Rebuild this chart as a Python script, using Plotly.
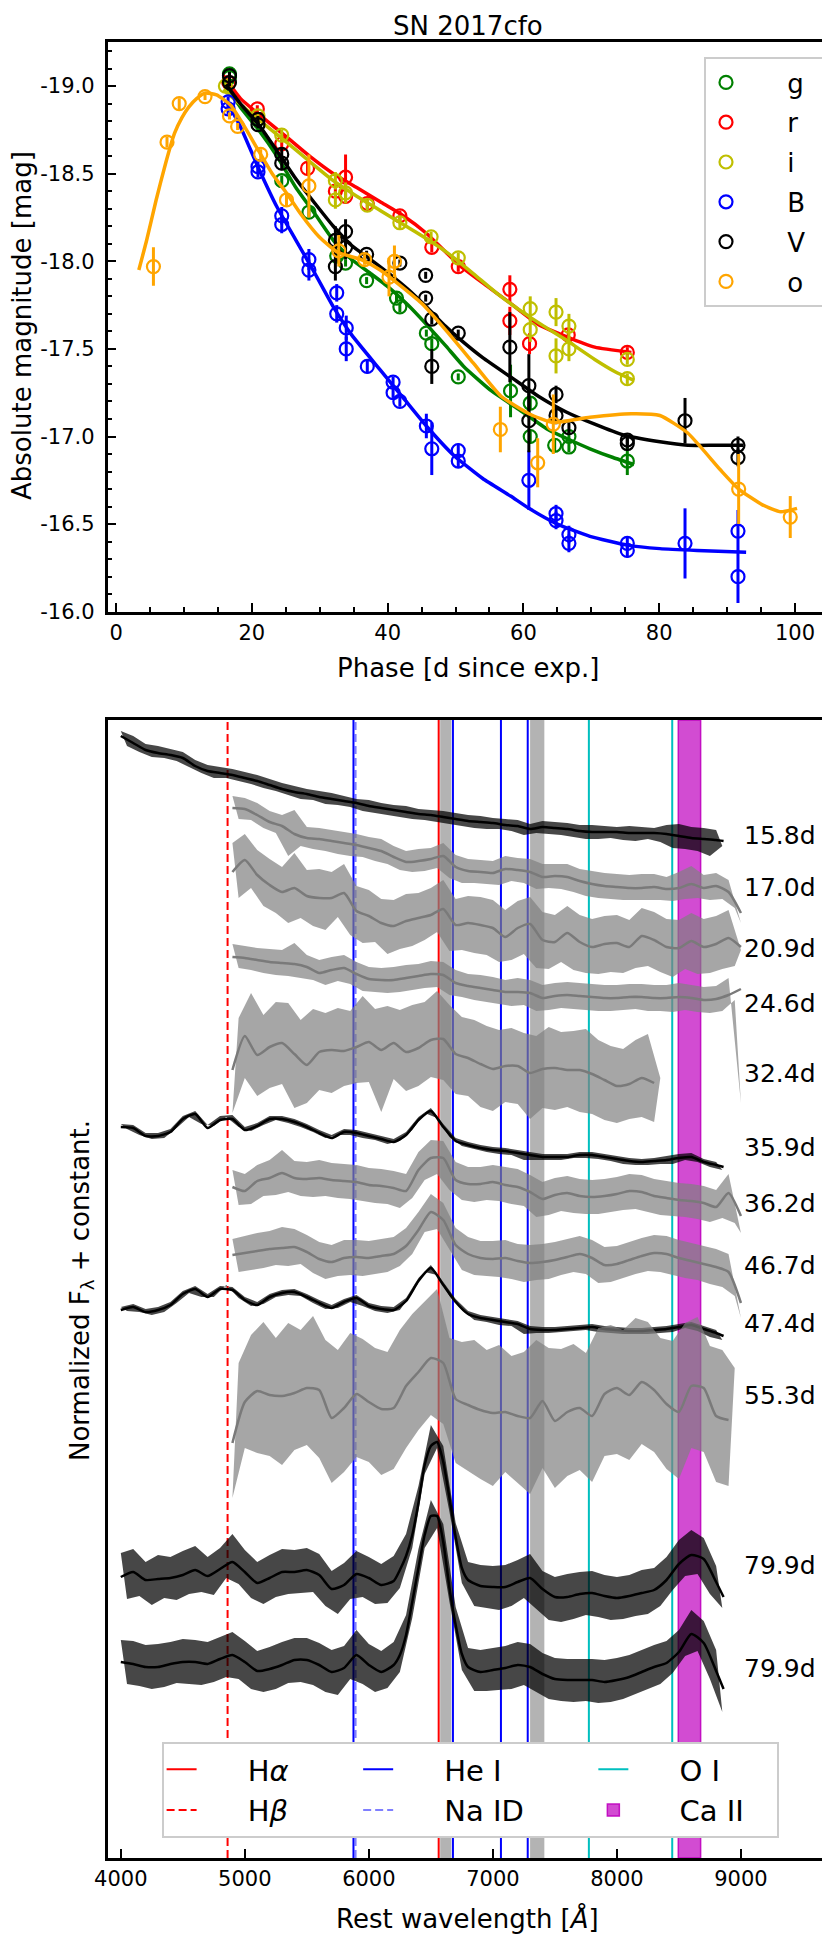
import plotly.graph_objects as go

FONT = "DejaVu Sans"
W, H = 830, 1937
OFF = 8                      # the page body adds an 8 px margin round the figure
FW, FH = W - OFF, H - OFF

# ---------------- light curves (phase [d], absolute mag, error) ----------------
G_PHASE = [16.7, 16.7, 20.9, 24.4, 28.4, 32.5, 33.8, 36.9, 41.3, 41.8, 45.7, 46.5, 50.4, 58.1, 61.0, 61.0, 64.6, 66.7, 66.7, 75.3]
G_MAG = [-19.07, -19.05, -18.81, -18.46, -18.28, -18.03, -17.99, -17.89, -17.79, -17.74, -17.59, -17.53, -17.34, -17.26, -17.19, -17.00, -16.95, -17.00, -16.94, -16.86]
G_ERR = [0.02, 0.02, 0.02, 0.03, 0.03, 0.03, 0.02, 0.02, 0.03, 0.03, 0.02, 0.03, 0.02, 0.15, 0.04, 0.04, 0.04, 0.03, 0.03, 0.08]

R_PHASE = [16.6, 20.8, 24.4, 28.2, 32.3, 33.8, 33.8, 37.0, 41.8, 46.5, 50.4, 58.0, 58.0, 60.9, 66.6, 75.3]
R_MAG = [-19.02, -18.87, -18.67, -18.53, -18.40, -18.48, -18.37, -18.33, -18.26, -18.08, -17.97, -17.84, -17.66, -17.53, -17.58, -17.48]
R_ERR = [0.02, 0.02, 0.03, 0.04, 0.04, 0.13, 0.04, 0.03, 0.03, 0.03, 0.03, 0.08, 0.08, 0.06, 0.03, 0.03]

I_PHASE = [16.1, 20.9, 24.4, 32.3, 32.3, 33.8, 37.0, 41.8, 46.4, 50.4, 61.0, 61.0, 64.8, 64.8, 66.7, 66.7, 75.3, 75.3]
I_MAG = [-19.00, -18.83, -18.72, -18.46, -18.35, -18.39, -18.32, -18.22, -18.14, -18.02, -17.73, -17.61, -17.71, -17.46, -17.63, -17.50, -17.44, -17.33]
I_ERR = [0.02, 0.02, 0.03, 0.05, 0.05, 0.06, 0.03, 0.04, 0.03, 0.03, 0.07, 0.07, 0.08, 0.10, 0.07, 0.07, 0.03, 0.03]

B_PHASE = [16.5, 16.5, 20.9, 20.9, 24.4, 24.4, 28.4, 28.4, 32.5, 32.5, 33.9, 33.9, 37.0, 40.8, 40.8, 41.8, 45.7, 46.5, 50.4, 50.4,
           60.8, 64.8, 64.8, 66.7, 66.7, 75.3, 75.3, 83.8, 91.6, 91.6]
B_MAG = [-18.91, -18.87, -18.54, -18.51, -18.26, -18.21, -18.01, -17.95, -17.82, -17.70, -17.62, -17.50, -17.40, -17.31, -17.25, -17.20,
         -17.06, -16.93, -16.92, -16.86, -16.75, -16.56, -16.52, -16.44, -16.39, -16.39, -16.35, -16.39, -16.46, -16.20]
B_ERR = [0.03, 0.03, 0.03, 0.03, 0.05, 0.05, 0.06, 0.06, 0.05, 0.05, 0.07, 0.07, 0.04, 0.03, 0.03, 0.03, 0.07, 0.15, 0.04, 0.04,
         0.17, 0.05, 0.05, 0.05, 0.05, 0.04, 0.04, 0.20, 0.12, 0.15]

V_PHASE = [16.7, 16.7, 20.9, 20.9, 24.4, 24.4, 32.3, 32.3, 33.8, 33.8, 36.9, 41.8, 45.6, 45.6, 46.5, 46.5, 50.4, 58.0,
           60.8, 60.8, 64.8, 64.8, 66.7, 75.3, 75.3, 83.8, 91.6, 91.6]
V_MAG = [-19.06, -19.02, -18.81, -18.78, -18.61, -18.56, -18.12, -17.97, -18.17, -18.08, -18.04, -17.99, -17.92, -17.79, -17.67, -17.40,
         -17.59, -17.51, -17.29, -17.09, -17.24, -17.12, -17.05, -16.98, -16.96, -17.09, -16.95, -16.88]
V_ERR = [0.02, 0.02, 0.02, 0.02, 0.04, 0.04, 0.08, 0.08, 0.07, 0.07, 0.02, 0.02, 0.02, 0.02, 0.03, 0.10, 0.02, 0.20,
         0.18, 0.18, 0.05, 0.05, 0.03, 0.03, 0.03, 0.13, 0.05, 0.05]

O_PHASE = [5.5, 7.5, 9.3, 13.1, 16.7, 17.9, 21.3, 25.1, 28.4, 32.8, 36.6, 40.2, 41.0, 56.6, 62.1, 64.4, 91.7, 99.3]
O_MAG = [-17.97, -18.68, -18.90, -18.94, -18.83, -18.77, -18.61, -18.35, -18.43, -18.06, -18.01, -17.91, -18.00, -17.04, -16.85, -17.07, -16.70, -16.54]
O_ERR = [0.11, 0.03, 0.03, 0.02, 0.02, 0.02, 0.03, 0.04, 0.18, 0.09, 0.03, 0.11, 0.09, 0.13, 0.14, 0.17, 0.20, 0.12]

# fitted curves
G_FIT_PHASE = [15.8, 18.3, 21.0, 23.7, 26.5, 29.3, 32.0, 34.7, 37.5, 40.2, 43.0, 45.7, 48.5, 51.2, 55.3, 59.5, 63.6, 66.3, 69.8, 73.2, 76.3]
G_FIT_MAG = [-19.02, -18.88, -18.75, -18.60, -18.42, -18.27, -18.12, -18.01, -17.93, -17.85, -17.75, -17.64, -17.52, -17.40, -17.26, -17.15, -17.04, -16.99, -16.93, -16.88, -16.84]
R_FIT_PHASE = [15.8, 18.3, 21.0, 25.1, 28.5, 32.0, 35.5, 38.9, 42.3, 45.7, 48.1, 50.5, 54.6, 58.1, 62.2, 66.3, 70.5, 75.9]
R_FIT_MAG = [-19.06, -18.93, -18.84, -18.71, -18.60, -18.50, -18.42, -18.34, -18.26, -18.16, -18.07, -17.98, -17.86, -17.76, -17.64, -17.57, -17.51, -17.48]
I_FIT_PHASE = [15.8, 20.0, 25.1, 28.5, 32.0, 35.5, 38.9, 42.3, 45.7, 49.1, 52.6, 56.0, 59.5, 63.0, 66.3, 70.5, 73.5, 76.3]
I_FIT_MAG = [-18.98, -18.84, -18.68, -18.57, -18.46, -18.37, -18.29, -18.21, -18.13, -18.04, -17.93, -17.82, -17.72, -17.63, -17.55, -17.44, -17.37, -17.32]
B_FIT_PHASE = [16.2, 18.3, 21.0, 23.7, 26.5, 29.3, 32.0, 34.7, 38.9, 42.3, 45.7, 49.8, 54.0, 58.1, 60.8, 65.0, 69.8, 75.3, 80.1, 85.6, 92.8]
B_FIT_MAG = [-18.92, -18.77, -18.53, -18.31, -18.12, -17.93, -17.74, -17.58, -17.38, -17.22, -17.06, -16.89, -16.76, -16.66, -16.59, -16.50, -16.43, -16.38, -16.36, -16.35, -16.34]
V_FIT_PHASE = [16.2, 18.3, 21.0, 23.7, 26.5, 29.3, 32.0, 34.7, 37.5, 40.2, 43.0, 45.7, 48.5, 50.5, 54.0, 58.1, 62.2, 66.3, 70.5, 74.6, 80.1, 84.2, 88.3, 92.4]
V_FIT_MAG = [-19.01, -18.90, -18.78, -18.63, -18.47, -18.33, -18.20, -18.09, -18.01, -17.93, -17.84, -17.74, -17.63, -17.56, -17.45, -17.34, -17.23, -17.14, -17.07, -17.01, -16.97, -16.95, -16.95, -16.95]
O_FIT_PHASE = [3.35, 4.5, 5.9, 7.3, 8.6, 9.7, 10.7, 11.9, 13.1, 14.8, 16.9, 18.9, 21.0, 23.0, 25.1, 27.2, 29.9, 32.7, 36.1, 38.9, 41.6, 45.0,
               48.5, 52.6, 56.7, 60.8, 64.3, 69.8, 75.9, 80.1, 84.2, 89.0, 91.7, 95.2, 97.9, 100.3]
O_FIT_MAG = [-17.95, -18.12, -18.35, -18.56, -18.73, -18.82, -18.88, -18.93, -18.96, -18.95, -18.89, -18.77, -18.63, -18.50, -18.39, -18.27, -18.14, -18.05, -18.01, -17.95, -17.87, -17.76,
             -17.61, -17.42, -17.23, -17.13, -17.08, -17.11, -17.13, -17.12, -17.02, -16.81, -16.70, -16.61, -16.57, -16.59]

# ---------------- spectra (rest wavelength [A], normalized flux + constant) ----------------
WL_BLUE = [4000, 4100, 4200, 4300, 4400, 4500, 4600, 4700, 4800, 4900, 5000, 5100, 5200, 5300, 5400, 5500, 5600, 5700, 5800, 5900,
           6000, 6100, 6200, 6300, 6400, 6500, 6600, 6700, 6800, 6900, 7000, 7100, 7200, 7300, 7400, 7500, 7600, 7700, 7800, 7900,
           8000, 8100, 8200, 8300, 8400, 8500, 8600, 8700, 8800, 8860]
WL_RED = [4900, 5000, 5100, 5200, 5300, 5400, 5500, 5600, 5700, 5800, 5900, 6000, 6100, 6200, 6300, 6400, 6500, 6600, 6700, 6800,
          6900, 7000, 7100, 7200, 7300, 7400, 7500, 7600, 7700, 7800, 7900, 8000, 8100, 8200, 8300, 8400, 8500, 8600, 8700, 8800,
          8900, 9000]
WL_LATE = [4000, 4100, 4200, 4300, 4400, 4500, 4600, 4700, 4800, 4900, 5000, 5100, 5200, 5300, 5400, 5500, 5600, 5700, 5800, 5900,
           6000, 6100, 6200, 6250, 6300, 6350, 6400, 6450, 6500, 6550, 6600, 6650, 6700, 6750, 6800,
           6900, 7000, 7100, 7200, 7300, 7400, 7500, 7600, 7700, 7800, 7900, 8000, 8100, 8200, 8300, 8400, 8500, 8600, 8700, 8800, 8860]
RAW_BLUE = [4000, 4050, 4100, 4150, 4200, 4250, 4300, 4350, 4400, 4450,
            4500, 4550, 4600, 4650, 4700, 4750, 4800, 4850, 4900, 4950,
            5000, 5050, 5100, 5150, 5200, 5250, 5300, 5350, 5400, 5450,
            5500, 5550, 5600, 5650, 5700, 5750, 5800, 5850, 5900, 5950,
            6000, 6050, 6100, 6150, 6200, 6250, 6300, 6350, 6400, 6450,
            6500, 6550, 6600, 6650, 6700, 6750, 6800, 6850, 6900, 6950,
            7000, 7050, 7100, 7150, 7200, 7250, 7300, 7350, 7400, 7450,
            7500, 7550, 7600, 7650, 7700, 7750, 7800, 7850, 7900, 7950,
            8000, 8050, 8100, 8150, 8200, 8250, 8300, 8350, 8400, 8450,
            8500, 8550, 8600, 8650, 8700, 8750, 8800, 8850]
RAW_RED = [4900, 4950, 5000, 5050, 5100, 5150, 5200, 5250, 5300, 5350,
           5400, 5450, 5500, 5550, 5600, 5650, 5700, 5750, 5800, 5850,
           5900, 5950, 6000, 6050, 6100, 6150, 6200, 6250, 6300, 6350,
           6400, 6450, 6500, 6550, 6600, 6650, 6700, 6750, 6800, 6850,
           6900, 6950, 7000, 7050, 7100, 7150, 7200, 7250, 7300, 7350,
           7400, 7450, 7500, 7550, 7600, 7650, 7700, 7750, 7800, 7850,
           7900, 7950, 8000, 8050, 8100, 8150, 8200, 8250, 8300, 8350,
           8400, 8450, 8500, 8550, 8600, 8650, 8700, 8750, 8800, 8850,
           8900, 8950, 9000]

# raw flux: alternating upper / lower extent of the noise, one value every 50 A
S158_RAW = [112.7, 111.2, 112.2, 110.6, 111.4, 110.1, 111.2, 110.0, 110.9, 109.7,
            110.6, 109.1, 109.8, 108.5, 109.3, 108.0, 109.1, 108.0, 108.9, 107.7,
            108.6, 107.4, 108.3, 107.0, 107.9, 106.7, 107.5, 106.3, 107.2, 105.9,
            106.9, 105.8, 106.7, 105.4, 106.5, 105.3, 106.2, 105.1, 105.9, 104.7,
            105.8, 104.5, 105.5, 104.3, 105.3, 104.1, 105.2, 103.9, 104.9, 103.8,
            104.8, 103.6, 104.7, 103.4, 104.5, 103.2, 104.3, 103.0, 104.2, 102.9,
            104.0, 102.9, 103.9, 102.7, 103.8, 102.3, 103.4, 102.5, 103.7, 102.4,
            103.6, 102.3, 103.5, 102.1, 103.3, 101.9, 103.3, 101.9, 103.2, 102.0,
            103.1, 101.8, 103.2, 101.7, 103.1, 101.9, 103.0, 101.6, 103.3, 101.0,
            103.4, 100.9, 103.1, 100.7, 103.0, 100.2, 102.8, 101.2]
S158_SMOOTH = [112.2, 111.5, 110.8, 110.5, 110.3, 110.0, 109.2, 108.7, 108.5, 108.3,
               108.0, 107.7, 107.3, 106.9, 106.6, 106.4, 106.1, 105.9, 105.7, 105.5,
               105.2, 105.0, 104.8, 104.6, 104.4, 104.3, 104.1, 103.9, 103.7, 103.6,
               103.5, 103.3, 103.2, 102.9, 103.1, 103.0, 102.9, 102.7, 102.6, 102.6,
               102.6, 102.5, 102.5, 102.5, 102.4, 102.2, 102.0, 101.9, 101.8, 101.7]

S170_RAW = [106.2, 103.9, 106.0, 103.8, 105.5, 103.0, 104.7, 102.5, 104.3, 100.2,
            104.8, 101.2, 103.1, 100.9, 103.0, 100.7, 102.8, 100.4, 102.6, 100.2,
            102.4, 100.1, 102.1, 99.7, 101.9, 99.4, 101.2, 98.8, 100.7, 98.6,
            100.9, 98.7, 101.0, 99.0, 101.5, 98.0, 100.3, 97.5, 99.9, 97.5,
            99.8, 97.4, 99.7, 97.3, 100.2, 97.7, 100.0, 97.5, 99.9, 96.9,
            99.4, 97.0, 99.4, 96.9, 99.4, 96.6, 98.9, 96.2, 98.7, 96.0,
            98.5, 95.9, 98.4, 95.8, 98.3, 95.8, 98.4, 95.8, 98.4, 95.8,
            98.1, 95.7, 98.6, 95.9, 99.2, 96.0, 98.3, 95.8, 98.5, 95.9,
            97.8, 95.0, 93.5]
S170_SMOOTH = [105.0, 104.9, 104.3, 103.6, 103.2, 102.4, 102.0, 101.9, 101.7, 101.5,
               101.3, 101.0, 100.7, 100.1, 99.6, 99.7, 99.9, 100.2, 99.1, 98.7,
               98.6, 98.5, 98.9, 98.8, 98.6, 98.1, 98.2, 98.1, 97.7, 97.4,
               97.2, 97.1, 97.0, 97.0, 97.1, 96.9, 97.0, 97.4, 97.0, 97.2,
               96.6, 94.5]

S209_RAW = [101.5, 96.0, 102.4, 97.0, 100.8, 95.2, 99.9, 94.5, 99.1, 93.5,
            100.5, 94.0, 98.8, 93.2, 98.9, 92.8, 98.6, 94.1, 99.4, 92.3,
            97.2, 91.5, 96.8, 91.6, 95.9, 90.4, 95.8, 90.9, 96.4, 91.2,
            96.5, 91.8, 97.0, 92.6, 97.8, 90.7, 95.9, 90.8, 96.2, 90.5,
            96.1, 90.3, 95.8, 89.6, 94.8, 89.8, 95.7, 90.4, 96.1, 89.0,
            94.6, 88.9, 94.3, 89.6, 95.2, 88.8, 94.3, 88.5, 93.9, 88.4,
            94.2, 88.6, 94.3, 88.5, 93.8, 89.0, 95.0, 89.2, 94.6, 88.6,
            93.9, 88.1, 93.8, 88.9, 94.5, 88.4, 93.9, 88.5, 94.2, 88.9,
            94.8, 89.2, 90.8]
S209_SMOOTH = [98.6, 99.8, 98.3, 97.3, 96.6, 97.0, 96.2, 96.0, 96.0, 96.5,
               94.7, 94.2, 93.5, 93.2, 93.7, 94.0, 94.3, 94.9, 93.3, 93.5,
               93.3, 93.0, 92.1, 93.0, 93.4, 91.8, 91.6, 92.5, 91.6, 91.1,
               91.4, 91.5, 91.1, 92.2, 91.8, 91.1, 91.0, 91.7, 91.1, 91.4,
               92.0, 91.1]

S246_RAW = [91.4, 89.0, 91.2, 88.8, 91.0, 88.5, 90.9, 88.3, 90.8, 88.2,
            91.5, 88.0, 90.3, 87.8, 89.8, 87.3, 90.1, 87.7, 90.3, 87.4,
            89.6, 86.7, 89.1, 86.6, 89.0, 86.5, 89.1, 86.6, 89.3, 86.8,
            89.4, 87.0, 89.7, 87.1, 89.6, 86.3, 88.8, 86.1, 88.4, 85.8,
            88.3, 85.6, 88.1, 85.4, 87.8, 85.2, 88.0, 85.3, 87.8, 84.7,
            87.3, 84.8, 87.5, 85.0, 87.6, 84.9, 87.5, 84.8, 87.4, 84.7,
            87.3, 84.7, 87.3, 84.8, 87.4, 84.9, 87.4, 84.7, 87.3, 84.7,
            87.3, 84.6, 87.5, 84.8, 87.3, 84.6, 87.1, 84.5, 87.2, 84.7,
            88.0, 85.8, 75.5]
S246_SMOOTH = [90.1, 90.0, 89.8, 89.6, 89.5, 89.4, 89.1, 88.5, 88.8, 89.0,
               88.4, 87.9, 87.8, 87.8, 88.0, 88.2, 88.4, 88.3, 87.5, 87.2,
               87.0, 86.8, 86.6, 86.6, 86.5, 86.0, 86.2, 86.3, 86.2, 86.1,
               86.0, 86.0, 86.1, 86.1, 86.0, 86.0, 86.1, 86.0, 85.8, 85.9,
               86.3, 86.9]

S324_RAW = [74.5, 84.0, 78.0, 86.5, 76.2, 84.3, 77.0, 85.6, 77.4, 85.5,
            75.0, 83.8, 75.5, 84.9, 76.8, 84.5, 76.5, 85.0, 77.2, 84.7,
            77.5, 86.2, 77.6, 84.9, 74.6, 85.2, 77.9, 84.8, 76.7, 85.3,
            77.2, 85.6, 78.1, 86.7, 77.8, 85.3, 76.4, 84.1, 76.2, 83.8,
            75.1, 83.2, 74.7, 82.8, 75.6, 83.0, 75.4, 82.5, 73.9, 82.2,
            75.0, 83.1, 74.8, 82.6, 75.1, 82.7, 74.6, 82.9, 74.4, 81.8,
            73.8, 81.2, 73.5, 80.9, 73.9, 81.8, 74.1, 82.4, 73.6, 78.0]
S324_SMOOTH = [78.8, 82.2, 80.3, 81.1, 81.5, 80.4, 79.3, 80.6, 80.8, 80.7,
               81.1, 81.6, 80.8, 81.5, 80.6, 81.0, 81.8, 81.9, 80.4, 80.0,
               79.4, 78.9, 79.2, 79.2, 78.5, 78.9, 79.0, 78.8, 78.8, 78.4,
               77.8, 77.2, 77.4, 78.0, 77.5]

S359_RAW = [73.4, 72.9, 73.3, 72.3, 72.5, 71.9, 72.5, 72.0, 72.9, 73.0,
            74.2, 74.1, 74.7, 73.4, 73.3, 73.2, 74.2, 74.1, 74.3, 73.1,
            73.1, 72.7, 73.5, 73.3, 74.2, 73.8, 74.2, 73.5, 73.9, 73.1,
            73.4, 72.6, 72.8, 72.0, 72.3, 72.3, 72.9, 72.3, 72.8, 72.0,
            72.5, 71.8, 72.2, 71.4, 71.9, 71.7, 72.6, 72.8, 74.1, 74.5,
            75.0, 74.0, 73.4, 72.1, 72.0, 71.2, 71.6, 70.9, 71.3, 70.6,
            71.1, 70.4, 71.0, 70.3, 70.8, 69.8, 70.6, 69.8, 70.4, 69.8,
            70.4, 69.8, 70.4, 70.0, 70.6, 70.0, 70.6, 69.9, 70.4, 69.7,
            70.2, 69.4, 70.0, 69.3, 69.9, 69.3, 70.0, 69.4, 70.2, 69.4,
            70.4, 69.8, 70.5, 69.6, 69.9, 69.1, 69.6, 68.8]
S359_SMOOTH = [73.1, 73.0, 72.2, 72.2, 72.6, 73.9, 74.4, 73.0, 73.8, 73.9,
               72.8, 73.2, 73.9, 73.9, 73.6, 73.1, 72.5, 72.0, 72.6, 72.5,
               72.2, 71.9, 71.6, 72.3, 73.8, 74.7, 73.1, 71.7, 71.3, 71.0,
               70.8, 70.7, 70.5, 70.3, 70.1, 70.1, 70.1, 70.3, 70.3, 70.1,
               69.9, 69.7, 69.6, 69.7, 69.8, 70.0, 70.1, 69.6, 69.3, 69.1]

S362_RAW = [68.8, 65.3, 68.4, 65.4, 69.3, 66.2, 69.8, 66.3, 70.8, 66.6,
            69.7, 66.2, 69.6, 66.1, 69.8, 66.2, 69.5, 66.0, 69.4, 65.9,
            69.3, 65.7, 69.0, 65.5, 68.9, 65.4, 68.7, 65.0, 68.4, 66.0,
            70.6, 67.8, 71.8, 68.4, 71.7, 66.8, 69.6, 65.8, 69.1, 65.6,
            69.1, 65.8, 69.3, 65.7, 69.1, 65.4, 68.9, 65.2, 68.3, 64.1,
            67.6, 64.3, 68.0, 64.7, 68.2, 64.5, 67.9, 64.4, 67.8, 64.4,
            67.9, 64.6, 68.1, 64.8, 68.4, 64.9, 68.3, 64.6, 67.9, 64.3,
            67.7, 64.2, 67.5, 64.1, 67.4, 63.9, 67.2, 63.6, 66.8, 64.0,
            68.4, 63.5, 62.5]
S362_SMOOTH = [67.1, 66.7, 67.7, 68.0, 68.5, 68.0, 67.9, 68.0, 67.8, 67.7,
               67.6, 67.3, 67.2, 67.0, 66.7, 68.8, 70.0, 70.0, 67.8, 67.4,
               67.4, 67.6, 67.3, 67.1, 66.6, 65.9, 66.3, 66.5, 66.2, 66.1,
               66.2, 66.4, 66.7, 66.6, 66.2, 66.0, 65.8, 65.7, 65.5, 65.1,
               66.5, 64.2]

S467_RAW = [61.9, 58.6, 62.2, 58.8, 62.5, 59.0, 62.7, 59.3, 63.1, 59.2,
            62.9, 59.4, 62.3, 58.5, 61.6, 57.9, 61.3, 58.2, 61.8, 58.3,
            61.8, 58.2, 61.7, 58.4, 61.9, 58.6, 62.1, 59.2, 63.0, 60.4,
            64.6, 62.6, 66.4, 62.9, 65.5, 60.8, 63.0, 58.8, 62.1, 58.3,
            61.7, 58.2, 61.7, 58.1, 61.8, 57.9, 61.4, 57.6, 61.3, 57.8,
            61.4, 57.9, 61.6, 58.3, 61.9, 58.6, 62.2, 58.4, 61.8, 57.5,
            61.1, 57.6, 61.2, 58.0, 61.6, 58.4, 62.0, 58.7, 62.3, 58.6,
            62.2, 58.3, 61.8, 58.0, 61.5, 57.8, 61.2, 57.4, 60.9, 57.1,
            60.4, 56.2, 54.0]
S467_SMOOTH = [60.3, 60.5, 60.7, 60.9, 61.0, 61.1, 60.6, 59.9, 59.6, 60.0,
               60.1, 60.0, 60.2, 60.4, 61.2, 62.8, 64.6, 63.8, 61.3, 60.4,
               60.0, 59.9, 60.0, 59.7, 59.5, 59.6, 59.8, 60.1, 60.4, 60.0,
               59.3, 59.4, 59.8, 60.2, 60.5, 60.4, 60.0, 59.7, 59.4, 59.1,
               58.6, 55.5]

S474_RAW = [55.1, 54.7, 55.4, 54.6, 54.9, 54.3, 55.1, 54.6, 55.6, 55.5,
            56.7, 56.5, 57.2, 56.1, 56.4, 56.1, 57.2, 57.3, 57.1, 56.0,
            56.1, 55.2, 55.6, 55.4, 56.4, 56.1, 56.8, 56.3, 56.9, 56.2,
            56.4, 55.5, 55.8, 54.9, 55.3, 55.0, 55.9, 55.6, 56.3, 55.2,
            55.5, 54.7, 55.2, 54.5, 55.1, 54.8, 56.0, 56.5, 58.0, 58.6,
            59.3, 58.3, 57.6, 56.2, 55.9, 54.8, 54.7, 53.8, 54.3, 53.6,
            54.1, 53.3, 53.9, 53.2, 53.7, 52.4, 53.2, 52.5, 53.1, 52.5,
            53.1, 52.6, 53.2, 52.7, 53.3, 52.8, 53.4, 52.6, 53.2, 52.5,
            53.1, 52.4, 53.0, 52.4, 53.0, 52.4, 53.1, 52.5, 53.2, 52.6,
            53.4, 53.0, 53.6, 52.7, 53.2, 52.1, 52.8, 51.8]
S474_SMOOTH = [54.8, 55.1, 54.6, 54.8, 55.3, 56.4, 56.9, 56.1, 56.9, 56.8,
               55.8, 55.3, 56.1, 56.5, 56.6, 56.1, 55.5, 55.0, 55.6, 56.0,
               55.2, 54.9, 54.8, 55.7, 57.7, 59.0, 57.3, 55.6, 54.4, 54.0,
               53.8, 53.6, 53.4, 52.9, 52.8, 52.8, 52.9, 53.0, 53.1, 52.9,
               52.8, 52.7, 52.7, 52.8, 52.9, 53.1, 53.3, 52.9, 52.5, 52.2]

S553_RAW = [36.0, 49.5, 41.0, 52.3, 40.5, 53.6, 40.2, 52.0, 39.3, 53.5,
            40.8, 52.8, 41.3, 54.2, 40.0, 51.8, 37.5, 50.8, 38.6, 52.5,
            40.1, 51.9, 39.6, 51.0, 38.3, 50.6, 38.9, 52.8, 41.0, 54.4,
            42.8, 55.6, 44.3, 56.9, 43.4, 52.0, 39.5, 51.6, 38.7, 51.8,
            37.9, 50.8, 37.2, 51.3, 38.6, 50.2, 37.5, 50.6, 36.4, 51.8,
            39.0, 51.0, 37.0, 50.9, 38.2, 51.4, 38.8, 50.5, 37.6, 53.0,
            40.2, 53.3, 40.4, 52.8, 39.8, 54.0, 41.4, 53.6, 40.6, 52.0,
            38.9, 51.7, 37.9, 53.5, 41.0, 54.1, 40.6, 51.2, 37.6, 50.8,
            37.2, 49.0]
S553_SMOOTH = [41.5, 45.6, 46.7, 46.3, 46.2, 46.5, 47.0, 46.8, 44.0, 45.0,
               46.4, 45.6, 44.9, 45.0, 47.2, 48.6, 50.0, 49.5, 45.9, 45.3,
               44.8, 44.5, 44.6, 44.2, 44.0, 45.7, 43.7, 44.6, 45.0, 44.2,
               46.4, 47.0, 46.3, 47.6, 46.8, 45.4, 44.6, 47.2, 47.0, 44.2,
               43.8]

S799A_RAW = [30.5, 25.9, 30.9, 26.2, 29.6, 25.3, 30.3, 26.0, 30.1, 25.8,
             30.7, 26.4, 31.2, 26.6, 30.1, 26.3, 31.0, 28.0, 32.4, 27.4,
             30.8, 26.0, 29.6, 25.4, 30.3, 26.1, 30.9, 26.4, 30.8, 26.5,
             31.0, 26.6, 30.4, 25.2, 28.7, 24.4, 29.5, 25.9, 30.7, 26.1,
             30.1, 25.4, 29.4, 25.5, 30.2, 27.0, 32.4, 31.0, 37.2, 38.4,
             43.3, 41.0, 41.2, 34.6, 33.5, 27.5, 29.6, 25.2, 29.3, 25.0,
             29.2, 24.8, 29.3, 25.2, 29.8, 26.0, 30.4, 24.9, 28.7, 23.8,
             28.1, 23.6, 28.4, 23.9, 28.6, 24.3, 28.7, 24.1, 28.3, 23.8,
             28.1, 23.9, 28.3, 24.2, 28.8, 24.4, 29.0, 25.2, 30.1, 26.8,
             31.8, 28.2, 32.8, 28.4, 32.0, 26.4, 29.2, 25.0]
S799A_SMOOTH = [28.1, 28.6, 27.8, 27.9, 28.0, 28.3, 28.8, 28.2, 28.9, 29.6,
                28.6, 27.5, 28.0, 28.6, 28.6, 28.8, 28.3, 26.9, 27.3, 28.4,
                28.0, 27.3, 27.7, 28.8, 30.2, 32.3, 35.5, 39.3, 41.2, 41.6,
                39.6, 36.0, 32.1, 29.0, 27.8, 27.2, 27.1, 27.1, 27.6, 28.0,
                26.9, 26.1, 26.1, 26.4, 26.5, 26.2, 26.0, 26.2, 26.5, 26.8,
                27.8, 29.4, 30.3, 29.9, 27.6, 26.1]

S799B_RAW = [21.8, 17.4, 21.7, 17.2, 21.3, 16.9, 21.4, 17.1, 21.6, 17.5,
             21.9, 17.4, 21.8, 17.3, 21.6, 17.6, 22.1, 18.1, 22.6, 17.9,
             21.7, 16.9, 20.7, 16.6, 21.1, 16.9, 21.6, 17.5, 22.0, 17.6,
             22.0, 17.3, 21.5, 16.6, 20.8, 16.3, 21.2, 17.9, 22.8, 17.4,
             21.4, 16.6, 20.7, 17.0, 21.6, 18.6, 24.3, 24.0, 30.9, 31.0,
             35.8, 33.0, 33.4, 25.6, 25.1, 18.8, 21.0, 16.7, 20.8, 16.7,
             21.0, 16.8, 21.2, 16.9, 21.6, 17.3, 21.4, 16.6, 20.5, 15.9,
             20.0, 15.7, 19.9, 15.6, 19.9, 15.7, 19.9, 15.5, 19.8, 15.6,
             20.0, 15.9, 20.3, 16.4, 20.8, 16.9, 21.3, 17.4, 21.7, 18.5,
             22.8, 20.2, 24.8, 20.7, 23.7, 17.9, 20.8, 14.6]
S799B_SMOOTH = [19.6, 19.4, 19.1, 19.1, 19.4, 19.6, 19.6, 19.4, 19.9, 20.3,
                19.6, 18.7, 18.9, 19.3, 19.8, 19.8, 19.3, 18.6, 19.0, 20.3,
                19.3, 18.6, 19.3, 20.3, 22.3, 25.6, 29.0, 32.3, 34.2, 34.2,
                31.6, 27.0, 23.3, 20.4, 19.1, 18.6, 18.8, 19.0, 19.3, 19.1,
                18.4, 17.9, 17.8, 17.8, 17.8, 17.6, 17.8, 18.1, 18.6, 19.1,
                19.5, 20.6, 22.4, 21.5, 18.7, 16.9]

PHASE_LABELS = ["15.8d", "17.0d", "20.9d", "24.6d", "32.4d", "35.9d", "36.2d", "46.7d", "47.4d", "55.3d", "79.9d", "79.9d"]
LABEL_LEVEL = [102.3, 97.1, 91.0, 85.5, 78.5, 71.1, 65.5, 59.3, 53.5, 46.3, 29.3, 19.0]

# line identifications [A]
H_ALPHA = 6563
H_BETA = 4861
HE_I = [5876, 6678, 7065, 7281]
NA_ID = 5893
O_I = [7774, 8446]
CA_II = (8495, 8675)
TELLURIC = [(6575, 6665), (7300, 7415)]


def fx(p):
    return (p - OFF) / FW


def fy(p):
    return 1 - (p - OFF) / FH


NB = "\u00a0"
fig = go.Figure()

# ---- top panel ----
bands = [
    ("g", G_PHASE, G_MAG, G_ERR, G_FIT_PHASE, G_FIT_MAG, "#008000"),
    ("r", R_PHASE, R_MAG, R_ERR, R_FIT_PHASE, R_FIT_MAG, "#ff0000"),
    ("i", I_PHASE, I_MAG, I_ERR, I_FIT_PHASE, I_FIT_MAG, "#bfbf00"),
    ("B", B_PHASE, B_MAG, B_ERR, B_FIT_PHASE, B_FIT_MAG, "#0000ff"),
    ("V", V_PHASE, V_MAG, V_ERR, V_FIT_PHASE, V_FIT_MAG, "#000000"),
    ("o", O_PHASE, O_MAG, O_ERR, O_FIT_PHASE, O_FIT_MAG, "#ffa500"),
]
for name, ph, mag, err, fph, fmag, col in bands:
    fig.add_trace(go.Scatter(
        x=ph, y=mag, mode="markers", name=NB * 5 + name + NB * 2, legend="legend", legendgroup=name,
        error_y=dict(type="data", array=err, color=col, thickness=3, width=0),
        marker=dict(symbol="circle-open", size=13, color=col, line=dict(width=2.2, color=col)),
        xaxis="x", yaxis="y"))
    fig.add_trace(go.Scatter(
        x=fph, y=fmag, mode="lines", showlegend=False, hoverinfo="skip",
        line=dict(color=col, width=3.5, shape="spline", smoothing=0.5), xaxis="x", yaxis="y"))

# ---- bottom panel ----
DARK_RAW = "rgba(0,0,0,0.72)"
GREY_RAW = "rgba(128,128,128,0.7)"
spectra = [
    (RAW_BLUE, S158_RAW, WL_BLUE, S158_SMOOTH, "dark"),
    (RAW_RED, S170_RAW, WL_RED, S170_SMOOTH, "grey"),
    (RAW_RED, S209_RAW, WL_RED, S209_SMOOTH, "grey"),
    (RAW_RED, S246_RAW, WL_RED, S246_SMOOTH, "grey"),
    (RAW_RED[:70], S324_RAW, WL_RED[:35], S324_SMOOTH, "grey"),
    (RAW_BLUE, S359_RAW, WL_BLUE, S359_SMOOTH, "dark"),
    (RAW_RED, S362_RAW, WL_RED, S362_SMOOTH, "grey"),
    (RAW_RED, S467_RAW, WL_RED, S467_SMOOTH, "grey"),
    (RAW_BLUE, S474_RAW, WL_BLUE, S474_SMOOTH, "dark"),
    (RAW_RED[:82], S553_RAW, WL_RED[:41], S553_SMOOTH, "grey"),
    (RAW_BLUE, S799A_RAW, WL_LATE, S799A_SMOOTH, "dark"),
    (RAW_BLUE, S799B_RAW, WL_LATE, S799B_SMOOTH, "dark"),
]
for rw, rf, sw, sf, kind in spectra:
    raw_col = DARK_RAW if kind == "dark" else GREY_RAW
    sm_col = "black" if kind == "dark" else "#7a7a7a"
    # noise envelope: one edge through the even samples, back along the odd ones
    bx = rw[0::2] + rw[1::2][::-1]
    by = rf[0::2] + rf[1::2][::-1]
    fig.add_trace(go.Scatter(x=bx, y=by, mode="lines", fill="toself", fillcolor=raw_col,
                             line=dict(width=0, color=raw_col), showlegend=False, hoverinfo="skip",
                             xaxis="x2", yaxis="y2"))
    fig.add_trace(go.Scatter(x=sw, y=sf, mode="lines", showlegend=False, hoverinfo="skip",
                             line=dict(color=sm_col, width=2.5, shape="spline", smoothing=0.6),
                             xaxis="x2", yaxis="y2"))

for lab, lev in zip(PHASE_LABELS, LABEL_LEVEL):
    fig.add_annotation(x=9010, y=lev, xref="x2", yref="y2", text=lab, showarrow=False,
                       xanchor="left", yanchor="middle", font=dict(size=25, family=FONT, color="black"))


def vline(x, color, dash, name, group, rank, show):
    fig.add_shape(type="line", x0=x, x1=x, xref="x2", y0=0, y1=1, yref="y2 domain",
                  line=dict(color=color, width=2, dash=dash), layer="below",
                  name=name, showlegend=show, legend="legend2", legendgroup=group, legendrank=rank)


for lo, hi in TELLURIC:
    fig.add_shape(type="rect", x0=lo, x1=hi, xref="x2", y0=0, y1=1, yref="y2 domain",
                  fillcolor="rgba(128,128,128,0.6)", line=dict(width=0), layer="below")
fig.add_shape(type="rect", x0=CA_II[0], x1=CA_II[1], xref="x2", y0=0, y1=1, yref="y2 domain",
              fillcolor="rgba(191,0,191,0.7)", line=dict(color="rgba(191,0,191,0.9)", width=1.5),
              layer="below", name=NB * 5 + "Ca II" + NB * 3, showlegend=True, legend="legend2",
              legendgroup="c3", legendrank=6)
vline(H_ALPHA, "red", "solid", NB * 5 + "H<i>α</i>" + NB * 7, "c1", 1, True)
vline(H_BETA, "red", "8px,4px", NB * 5 + "H<i>β</i>" + NB * 7, "c1", 2, True)
for k, w in enumerate(HE_I):
    vline(w, "blue", "solid", NB * 5 + "He I", "c2", 3, k == 0)
vline(NA_ID, "rgba(0,0,255,0.5)", "8px,4px", NB * 5 + "Na ID" + NB * 7, "c2", 4, True)
for k, w in enumerate(O_I):
    vline(w, "#00bfbf", "solid", NB * 5 + "O I", "c3", 5, k == 0)

# ---- axes ----
tickfont = dict(size=21, family=FONT, color="black")
frame = dict(showline=True, mirror=True, linecolor="black", linewidth=2.5, showgrid=False, zeroline=False,
             automargin=False)
xdom = [fx(107.6), fx(828)]

fig.update_layout(
    width=FW, height=FH, margin=dict(l=0, r=0, t=0, b=0, autoexpand=False),
    paper_bgcolor="white", plot_bgcolor="white",
    font=dict(family=FONT, color="black"),
    xaxis=dict(domain=xdom, anchor="y", range=[-1.25, 104.86],
               tickvals=[0, 20, 40, 60, 80, 100], ticktext=["0", "20", "40", "60", "80", "100"],
               ticks="inside", ticklen=9, tickwidth=2, tickcolor="black", tickfont=tickfont,
               minor=dict(dtick=5, tick0=0, ticks="inside", ticklen=5, tickwidth=1.5, tickcolor="black"),
               **frame),
    yaxis=dict(domain=[fy(611.7), fy(42.3)], anchor="x", range=[-16.0, -19.25],
               tickvals=[-19.0, -18.5, -18.0, -17.5, -17.0, -16.5, -16.0],
               ticktext=["-19.0", "-18.5", "-18.0", "-17.5", "-17.0", "-16.5", "-16.0"],
               ticks="inside", ticklen=9, tickwidth=2, tickcolor="black", tickfont=tickfont,
               ticklabelstandoff=6,
               minor=dict(dtick=0.1, tick0=-19.0, ticks="inside", ticklen=5, tickwidth=1.5, tickcolor="black"),
               **frame),
    xaxis2=dict(domain=xdom, anchor="y2", range=[3893.6, 9702],
                tickvals=[4000, 5000, 6000, 7000, 8000, 9000],
                ticktext=["4000", "5000", "6000", "7000", "8000", "9000"],
                ticks="inside", ticklen=9, tickwidth=2, tickcolor="black", tickfont=tickfont, **frame),
    yaxis2=dict(domain=[fy(1858), fy(720)], anchor="x2", range=[0, 113.8],
                showticklabels=False, ticks="", **frame),
    legend=dict(x=fx(704), y=fy(57), xanchor="left", yanchor="top",
                bgcolor="white", bordercolor="#cccccc", borderwidth=2,
                font=dict(size=26, family=FONT, color="black"),
                traceorder="grouped", tracegroupgap=3),
    legend2=dict(x=fx(161.6), y=fy(1790), xanchor="left", yanchor="middle", orientation="h",
                 bgcolor="white", bordercolor="#cccccc", borderwidth=2,
                 font=dict(size=29, family=FONT, color="black"),
                 traceorder="grouped", tracegroupgap=0),
    showlegend=True,
)

# panel titles and axis titles (page pixel positions)
fig.add_annotation(x=fx(468), y=fy(9), xref="paper", yref="paper", text="SN 2017cfo", showarrow=False,
                   xanchor="center", yanchor="top", font=dict(size=26, family=FONT, color="black"))
titles = [
    ("Phase [d since exp.]", 468, 668, 26, 0),
    ("Absolute magnitude [mag]", 22, 326, 26, -90),
    ("Normalized F<sub>λ</sub> + constant.", 81, 1291, 26, -90),
    ("Rest wavelength [<i>Å</i>]", 467, 1918, 26, 0),
]
for txt, px, py, size, ang in titles:
    fig.add_annotation(x=fx(px), y=fy(py), xref="paper", yref="paper", text=txt, showarrow=False,
                       xanchor="center", yanchor="middle", textangle=ang,
                       font=dict(size=size, family=FONT, color="black"))

fig.write_html("out.html")
